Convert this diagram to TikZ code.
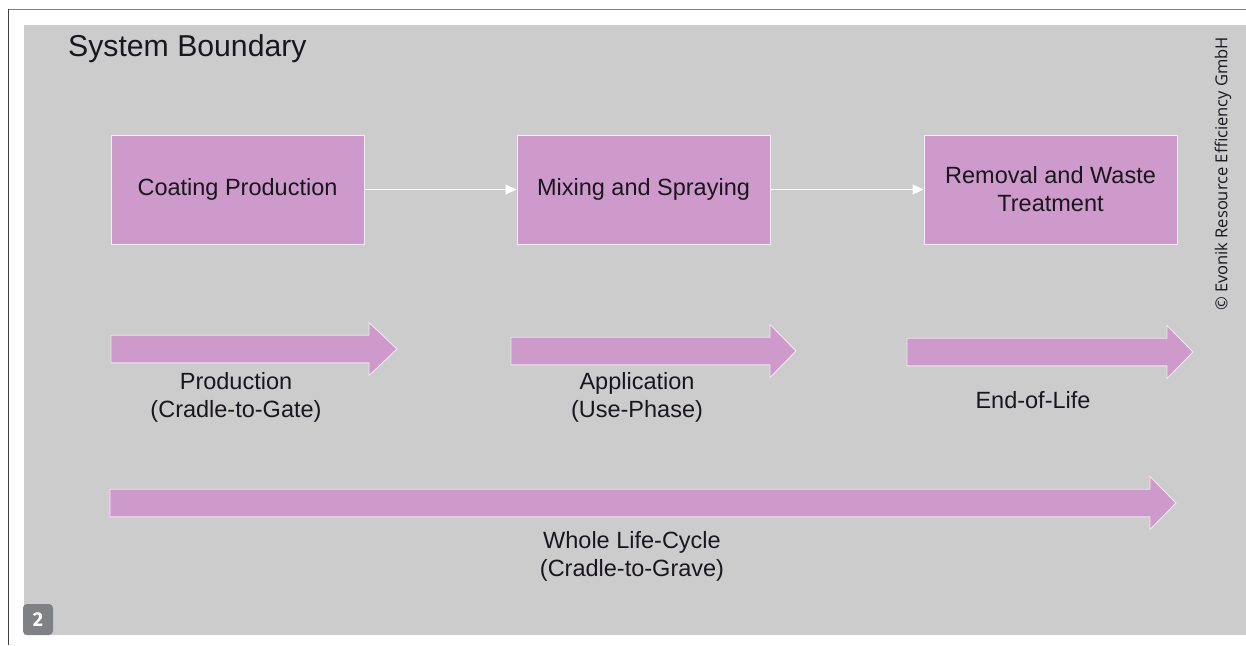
\documentclass[tikz,border=0pt]{standalone}
\usepackage{fontspec}
\setmainfont{Liberation Sans}
\newfontfamily\copyfont{Open Sans}
\newfontfamily\badgefont{Fira Sans}
\usetikzlibrary{arrows.meta}
\definecolor{panelgray}{RGB}{205,204,205}
\definecolor{mauve}{RGB}{206,154,203}
\definecolor{txt}{RGB}{25,22,30}
\definecolor{badgegray}{RGB}{128,129,133}
\newcommand\blockarr[4]{%
  \filldraw[fill=mauve, draw=white!75!mauve, line width=0.9pt]
    (#1,#4-13.8) -- (#2,#4-13.8) -- (#2,#4-26.5) -- (#3,#4) -- (#2,#4+26.5)
    -- (#2,#4+13.8) -- (#1,#4+13.8) -- cycle;}
\begin{document}
\begin{tikzpicture}[x=1pt,y=-1pt,
  stagebox/.style={draw=white!80!mauve, line width=1pt, fill=mauve,
    minimum width=253pt, minimum height=109pt, inner sep=0pt, align=center,
    font=\fontsize{23.5}{28}\selectfont, text=txt},
  lbl/.style={align=center, font=\fontsize{23.5}{28}\selectfont, text=txt, inner sep=0pt},
  flow/.style={draw=white, line width=1.2pt, -{Triangle[length=11pt,width=10pt]}},
]
\useasboundingbox (0,0) rectangle (1246,645);
\fill[white] (0,0) rectangle (1246,645);
\fill[panelgray] (24,25) rectangle (1246,635);
\draw[gray, line width=1.3pt] (8,9.5) -- (1246,9.5);
\draw[black!75, line width=1.3pt] (8.5,9) -- (8.5,645);

\node[anchor=base west, font=\fontsize{30.2}{32}\selectfont, text=txt, inner sep=0pt] (title) at (68,56) {System Boundary};

\node[stagebox] (coat) at (237.5,189.5) {Coating Production};
\node[stagebox] (mix) at (643.5,189.5) {Mixing and Spraying};
\node[stagebox] (rem) at (1050.5,189.5) {Removal and Waste\\Treatment};

\draw[flow] (coat.east) -- (mix.west);
\draw[flow] (mix.east) -- (rem.west);

\blockarr{111}{369}{397}{349}
\blockarr{511}{770}{796}{351}
\blockarr{907}{1167}{1193}{352}
\blockarr{110}{1150}{1176}{503}

\node[lbl] (prod) at (236,397) {Production\\(Cradle-to-Gate)};
\node[lbl] (appl) at (637,397) {Application\\(Use-Phase)};
\node[lbl] (eol) at (1033,400) {End-of-Life};
\node[lbl] (whole) at (632,556) {Whole Life-Cycle\\(Cradle-to-Grave)};

\node[rotate=90, font=\copyfont\fontsize{16.5}{18}\selectfont, text=txt, inner sep=0pt] (copy) at (1223,174) {© Evonik Resource Efficiency GmbH};

\node[fill=badgegray, rounded corners=4pt, minimum width=30pt, minimum height=31pt, inner sep=0pt,
  text=white, font=\badgefont\bfseries\fontsize{20}{20}\selectfont] (badge) at (38,619.5) {2};
\end{tikzpicture}
\end{document}
